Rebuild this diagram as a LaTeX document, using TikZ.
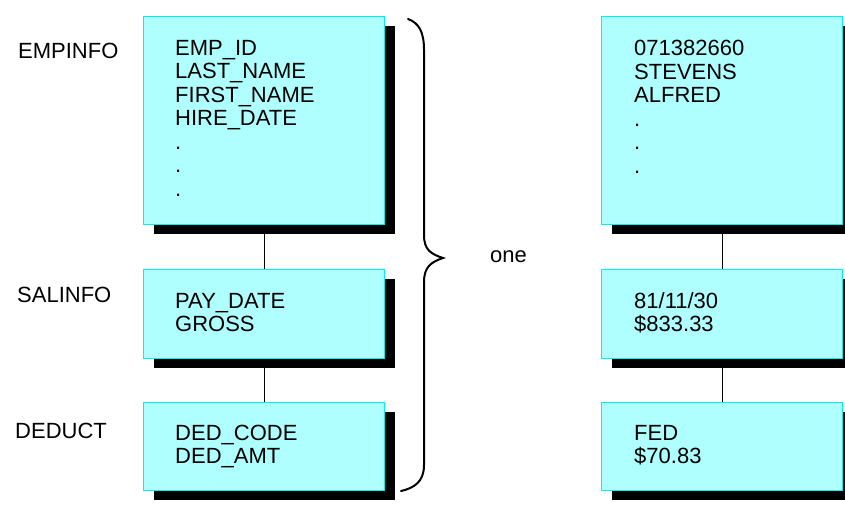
\documentclass[tikz,border=0pt]{standalone}
\usepackage{fontspec}
\setmainfont{Liberation Sans}
\usetikzlibrary{shadows,calc}
\definecolor{boxfill}{RGB}{176,255,255}
\definecolor{boxline}{RGB}{0,240,240}
\begin{document}
\begin{tikzpicture}[x=1pt,y=-1pt,
  recbox/.style={draw=boxline, line width=1.2pt, fill=boxfill, anchor=north west,
    minimum width=241pt, inner sep=0pt,
    drop shadow={shadow xshift=10pt, shadow yshift=-9pt, fill=black, opacity=1}},
  rectext/.style={anchor=base west, align=left, inner sep=0pt,
    font=\fontsize{22}{23.5}\selectfont},
  lbl/.style={anchor=base west, inner sep=0pt, font=\fontsize{22}{23.5}\selectfont},
  link/.style={draw=black, line width=1.2pt}]
\useasboundingbox (0,0) rectangle (845,509);
% left column
\node[recbox, minimum height=208pt] (le) at (143,16) {};
\node[recbox, minimum height=89pt] (ls) at (143,269) {};
\node[recbox, minimum height=88pt] (ld) at (143,402) {};
% right column
\node[recbox, minimum height=208pt] (re) at (601,16) {};
\node[recbox, minimum height=89pt] (rs) at (601,269) {};
\node[recbox, minimum height=88pt] (rd) at (601,402) {};
% connectors
\draw[link] (le.south) -- (ls.north);
\draw[link] (ls.south) -- (ld.north);
\draw[link] (re.south) -- (rs.north);
\draw[link] (rs.south) -- (rd.north);
% texts (base anchor = baseline of the last line)
\node[rectext] (let) at ($(le.north west)+(32,180)$) {EMP\_ID\\LAST\_NAME\\FIRST\_NAME\\HIRE\_DATE\\.\\.\\.};
\node[rectext] (lst) at ($(ls.north west)+(32,62.5)$) {PAY\_DATE\\GROSS};
\node[rectext] (ldt) at ($(ld.north west)+(32,61.5)$) {DED\_CODE\\DED\_AMT};
\node[rectext] (ret) at ($(re.north west)+(33,157)$) {071382660\\STEVENS\\ALFRED\\.\\.\\.};
\node[rectext] (rst) at ($(rs.north west)+(33,62.5)$) {81/11/30\\\$833.33};
\node[rectext] (rdt) at ($(rd.north west)+(33,61.5)$) {FED\\\$70.83};
% labels
\node[lbl] (l1) at (18,58) {EMPINFO};
\node[lbl] (l2) at (17,302) {SALINFO};
\node[lbl] (l3) at (15,438) {DEDUCT};
\node[lbl] (one) at (490,262) {one};
% brace
\draw[line width=2pt, line cap=round]
  (408,19) .. controls (419,23) and (424,32) .. (424,50) -- (424,235)
  .. controls (424,250) and (431,254) .. (443,258)
  .. controls (431,262) and (424,267) .. (424,282) -- (424,465)
  .. controls (424,482) and (414,488) .. (401,491);
\end{tikzpicture}
\end{document}
